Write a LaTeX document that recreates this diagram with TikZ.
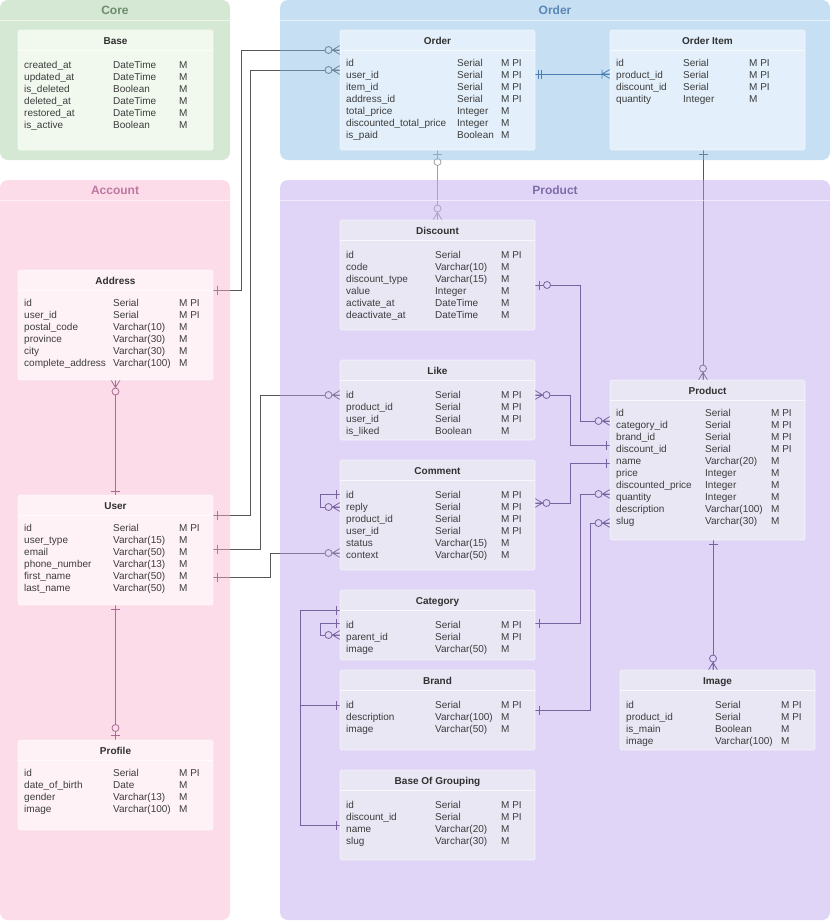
\documentclass[tikz,border=0pt]{standalone}
\usepackage{fontspec}
\setmainfont{Liberation Sans}
\usetikzlibrary{calc}
\pgfdeclarelayer{bg}
\pgfdeclarelayer{lines}
\pgfdeclarelayer{cont}
\pgfsetlayers{bg,lines,cont,main}

\definecolor{linec}{HTML}{575757}
\definecolor{lightl}{HTML}{A0A0A0}
\definecolor{blueline}{HTML}{194B8E}
\definecolor{prodline}{HTML}{40305F}
\definecolor{acctline}{HTML}{613561}
\definecolor{ccore}{HTML}{A2CCA0}
\definecolor{corder}{HTML}{85BAE4}
\definecolor{cacct}{HTML}{F8B3CC}
\definecolor{cprod}{HTML}{BCA4EF}
\definecolor{tcore}{HTML}{F1F9EF}
\definecolor{torder}{HTML}{E3F0FB}
\definecolor{tacct}{HTML}{FFF2F7}
\definecolor{tprod}{HTML}{EAE7F5}
\definecolor{ticore}{HTML}{6E8B6C}
\definecolor{tiorder}{HTML}{5A87B4}
\definecolor{tiacct}{HTML}{BE78A0}
\definecolor{tiprod}{HTML}{806CAA}
\definecolor{txt}{HTML}{3C3C3C}
\definecolor{hdrtxt}{HTML}{303030}

\newcommand{\tblrows}[5]{%
  \foreach \colA/\colB/\colC [count=\rowi] in {#5} {
    \node[cell] (#1-n\rowi) at ($(#1.north west)+(6,#4+12*\rowi-12)$) {\colA};
    \node[cell] (#1-t\rowi) at ($(#1.north west)+(#2,#4+12*\rowi-12)$) {\colB};
    \node[cell] (#1-m\rowi) at ($(#1.north west)+(#3,#4+12*\rowi-12)$) {\colC};
  }%
}
\newcommand{\tblhead}[2]{%
  \node[hdr] (#1-h) at ($(#1.north)+(0,10)$) {#2};
  \draw[sepline] ($(#1.north west)+(0,20)$) -- ($(#1.north east)+(0,20)$);
}

\begin{document}
\begin{tikzpicture}[x=1pt,y=-1pt,
  cont/.style={anchor=north west, inner sep=0pt, outer sep=0pt, rounded corners=8pt, fill opacity=0.45, draw=none},
  ctitle/.style={font=\fontsize{12}{14}\selectfont\bfseries, text height=9.6pt, text depth=0pt, inner sep=0pt},
  bandline/.style={draw=white, draw opacity=0.55, line width=0.8pt},
  tbl/.style={anchor=north west, minimum width=195pt, inner sep=0pt, outer sep=0pt, rounded corners=1.5pt, draw=white, draw opacity=0.6, line width=0.6pt},
  hdr/.style={font=\fontsize{10}{12}\selectfont\bfseries, text=hdrtxt, text height=8.6pt, text depth=0pt, inner sep=0pt},
  cell/.style={anchor=west, font=\fontsize{10}{12}\selectfont, text=txt, text height=8.6pt, text depth=0pt, inner sep=0pt},
  sepline/.style={draw=white, draw opacity=0.7, line width=0.6pt},
  cn/.style={draw=linec, line width=0.8pt},
  mk/.style={color=linec, line width=0.8pt},
  cnp/.style={draw=prodline, line width=0.8pt},
  mkp/.style={color=prodline, line width=0.8pt},
  cna/.style={draw=acctline, line width=0.8pt},
  mka/.style={color=acctline, line width=0.8pt},
  cnl/.style={draw=lightl, line width=0.8pt},
  mkl/.style={color=lightl, line width=0.8pt},
  cnb/.style={draw=blueline, line width=0.8pt},
  mkb/.style={color=blueline, line width=0.8pt},
  pone/.pic={\draw (4,-4.5) -- (4,4.5);},
  pmone/.pic={\draw (3.5,-4.5) -- (3.5,4.5) (6.5,-4.5) -- (6.5,4.5);},
  pzmany/.pic={\draw (0,-4.5) -- (7.5,0) -- (0,4.5) (0,0) -- (7.5,0); \draw[fill=white] (11.5,0) circle[radius=3.5pt];},
  pzone/.pic={\draw (4.5,-4.5) -- (4.5,4.5); \draw[fill=white] (12,0) circle[radius=3.5pt];},
  pomany/.pic={\draw (0,-4.5) -- (8,0) -- (0,4.5) (0,0) -- (8,0) (8,-4.5) -- (8,4.5);}
]
\useasboundingbox (0,0) rectangle (831,922);
\begin{pgfonlayer}{bg}
  \fill[white] (0,0) rectangle (831,922);
\end{pgfonlayer}

% ---------- containers ----------
\begin{pgfonlayer}{cont}
  \node[cont, fill=ccore, minimum width=230pt, minimum height=160pt] (ccore) at (0,0) {};
  \node[cont, fill=cacct, minimum width=230pt, minimum height=740pt] (cacct) at (0,180) {};
  \node[cont, fill=corder, minimum width=550pt, minimum height=160pt] (corder) at (280,0) {};
  \node[cont, fill=cprod, minimum width=550pt, minimum height=740pt] (cprod) at (280,180) {};
\end{pgfonlayer}
\foreach \c in {ccore,cacct,corder,cprod}{
  \draw[bandline] ($(\c.north west)+(0,20)$) -- ($(\c.north east)+(0,20)$);
}
\node[ctitle, text=ticore] (ccore-t) at ($(ccore.north)+(0,10)$) {Core};
\node[ctitle, text=tiacct] (cacct-t) at ($(cacct.north)+(0,10)$) {Account};
\node[ctitle, text=tiorder] (corder-t) at ($(corder.north)+(0,10)$) {Order};
\node[ctitle, text=tiprod] (cprod-t) at ($(cprod.north)+(0,10)$) {Product};

% ---------- tables ----------
\node[tbl, fill=tcore, minimum height=120pt] (base) at (18,30) {};
\tblhead{base}{Base}
\tblrows{base}{95}{161}{34}{created\_at/DateTime/M, updated\_at/DateTime/M, is\_deleted/Boolean/M, deleted\_at/DateTime/M, restored\_at/DateTime/M, is\_active/Boolean/M}

\node[tbl, fill=torder, minimum height=120pt] (order) at (340,30) {};
\tblhead{order}{Order}
\tblrows{order}{117}{161}{32}{id/Serial/M PI, user\_id/Serial/M PI, item\_id/Serial/M PI, address\_id/Serial/M PI, total\_price/Integer/M, discounted\_total\_price/Integer/M, is\_paid/Boolean/M}

\node[tbl, fill=torder, minimum height=120pt] (orderitem) at (610,30) {};
\tblhead{orderitem}{Order Item}
\tblrows{orderitem}{73}{139}{32}{id/Serial/M PI, product\_id/Serial/M PI, discount\_id/Serial/M PI, quantity/Integer/M}

\node[tbl, fill=tacct, minimum height=110pt] (address) at (18,270) {};
\tblhead{address}{Address}
\tblrows{address}{95}{161}{32}{id/Serial/M PI, user\_id/Serial/M PI, postal\_code/Varchar(10)/M, province/Varchar(30)/M, city/Varchar(30)/M, complete\_address/Varchar(100)/M}

\node[tbl, fill=tacct, minimum height=110pt] (user) at (18,495) {};
\tblhead{user}{User}
\tblrows{user}{95}{161}{32}{id/Serial/M PI, user\_type/Varchar(15)/M, email/Varchar(50)/M, phone\_number/Varchar(13)/M, first\_name/Varchar(50)/M, last\_name/Varchar(50)/M}

\node[tbl, fill=tacct, minimum height=90pt] (profile) at (18,740) {};
\tblhead{profile}{Profile}
\tblrows{profile}{95}{161}{32}{id/Serial/M PI, date\_of\_birth/Date/M, gender/Varchar(13)/M, image/Varchar(100)/M}

\node[tbl, fill=tprod, minimum height=110pt] (discount) at (340,220) {};
\tblhead{discount}{Discount}
\tblrows{discount}{95}{161}{34}{id/Serial/M PI, code/Varchar(10)/M, discount\_type/Varchar(15)/M, value/Integer/M, activate\_at/DateTime/M, deactivate\_at/DateTime/M}

\node[tbl, fill=tprod, minimum height=80pt] (like) at (340,360) {};
\tblhead{like}{Like}
\tblrows{like}{95}{161}{34}{id/Serial/M PI, product\_id/Serial/M PI, user\_id/Serial/M PI, is\_liked/Boolean/M}

\node[tbl, fill=tprod, minimum height=110pt] (comment) at (340,460) {};
\tblhead{comment}{Comment}
\tblrows{comment}{95}{161}{34}{id/Serial/M PI, reply/Serial/M PI, product\_id/Serial/M PI, user\_id/Serial/M PI, status/Varchar(15)/M, context/Varchar(50)/M}

\node[tbl, fill=tprod, minimum height=70pt] (category) at (340,590) {};
\tblhead{category}{Category}
\tblrows{category}{95}{161}{34}{id/Serial/M PI, parent\_id/Serial/M PI, image/Varchar(50)/M}

\node[tbl, fill=tprod, minimum height=80pt] (brand) at (340,670) {};
\tblhead{brand}{Brand}
\tblrows{brand}{95}{161}{34}{id/Serial/M PI, description/Varchar(100)/M, image/Varchar(50)/M}

\node[tbl, fill=tprod, minimum height=90pt] (bog) at (340,770) {};
\tblhead{bog}{Base Of Grouping}
\tblrows{bog}{95}{161}{34}{id/Serial/M PI, discount\_id/Serial/M PI, name/Varchar(20)/M, slug/Varchar(30)/M}

\node[tbl, fill=tprod, minimum height=160pt] (product) at (610,380) {};
\tblhead{product}{Product}
\tblrows{product}{95}{161}{32}{id/Serial/M PI, category\_id/Serial/M PI, brand\_id/Serial/M PI, discount\_id/Serial/M PI, name/Varchar(20)/M, price/Integer/M, discounted\_price/Integer/M, quantity/Integer/M, description/Varchar(100)/M, slug/Varchar(30)/M}

\node[tbl, fill=tprod, minimum height=80pt] (image) at (620,670) {};
\tblhead{image}{Image}
\tblrows{image}{95}{161}{34}{id/Serial/M PI, product\_id/Serial/M PI, is\_main/Boolean/M, image/Varchar(100)/M}

% ---------- connectors ----------
\begin{pgfonlayer}{lines}
  % Address -> Order
  \coordinate (c1a) at ($(address.north east)+(0,20)$);
  \coordinate (c1b) at ($(order.north west)+(0,20)$);
  \draw[cn] (c1a) -- ++(28,0) |- (c1b);
  \pic[mk] at (c1a) {pone};
  \pic[mk, rotate=180] at (c1b) {pzmany};
  % User -> Order
  \coordinate (c2a) at ($(user.north east)+(0,20)$);
  \coordinate (c2b) at ($(order.north west)+(0,40)$);
  \draw[cn] (c2a) -- ++(37,0) |- (c2b);
  \pic[mk] at (c2a) {pone};
  \pic[mk, rotate=180] at (c2b) {pzmany};
  % User -> Like
  \coordinate (c3a) at ($(user.north east)+(0,54)$);
  \coordinate (c3b) at ($(like.north west)+(0,35)$);
  \draw[cn] (c3a) -- ++(47,0) |- (c3b);
  \pic[mk] at (c3a) {pone};
  \pic[mk, rotate=180] at (c3b) {pzmany};
  % User -> Comment
  \coordinate (c4a) at ($(user.north east)+(0,82)$);
  \coordinate (c4b) at ($(comment.north west)+(0,93)$);
  \draw[cn] (c4a) -- ++(57,0) |- (c4b);
  \pic[mk] at (c4a) {pone};
  \pic[mk, rotate=180] at (c4b) {pzmany};
  % Order -> Order Item
  \coordinate (c5a) at ($(order.north east)+(0,44)$);
  \coordinate (c5b) at ($(orderitem.north west)+(0,44)$);
  \draw[cnb] (c5a) -- (c5b);
  \pic[mkb] at (c5a) {pmone};
  \pic[mkb, rotate=180] at (c5b) {pomany};
  % Order -> Discount
  \draw[cnl] (order.south) -- (discount.north);
  \pic[mkl, rotate=-90] at (order.south) {pzone};
  \pic[mkl, rotate=90] at (discount.north) {pzmany};
  % Order Item -> Product
  \coordinate (c7a) at ($(orderitem.south)+(-4.5,0)$);
  \coordinate (c7b) at (c7a |- product.north);
  \draw[cn] (c7a) -- (c7b);
  \pic[mk, rotate=-90] at (c7a) {pone};
  \pic[mk, rotate=90] at (c7b) {pzmany};
  % Address -> User
  \draw[cna] (address.south) -- (user.north);
  \pic[mka, rotate=-90] at (address.south) {pzmany};
  \pic[mka, rotate=90] at (user.north) {pone};
  % User -> Profile
  \draw[cna] (user.south) -- (profile.north);
  \pic[mka, rotate=-90] at (user.south) {pone};
  \pic[mka, rotate=90] at (profile.north) {pzone};
  % Discount -> Product
  \coordinate (c10a) at ($(discount.north east)+(0,65)$);
  \coordinate (c10b) at ($(product.north west)+(0,41)$);
  \draw[cnp] (c10a) -- ++(45,0) |- (c10b);
  \pic[mkp] at (c10a) {pzone};
  \pic[mkp, rotate=180] at (c10b) {pzmany};
  % Like -> Product
  \coordinate (c11a) at ($(like.north east)+(0,35)$);
  \coordinate (c11b) at ($(product.north west)+(0,65)$);
  \draw[cnp] (c11a) -- ++(35,0) |- (c11b);
  \pic[mkp] at (c11a) {pzmany};
  \pic[mkp, rotate=180] at (c11b) {pone};
  % Comment -> Product
  \coordinate (c12a) at ($(comment.north east)+(0,43)$);
  \coordinate (c12b) at ($(product.north west)+(0,83)$);
  \draw[cnp] (c12a) -- ++(35,0) |- (c12b);
  \pic[mkp] at (c12a) {pzmany};
  \pic[mkp, rotate=180] at (c12b) {pone};
  % Category -> Product
  \coordinate (c13a) at ($(category.north east)+(0,33)$);
  \coordinate (c13b) at ($(product.north west)+(0,114)$);
  \draw[cnp] (c13a) -- ++(45,0) |- (c13b);
  \pic[mkp] at (c13a) {pone};
  \pic[mkp, rotate=180] at (c13b) {pzmany};
  % Brand -> Product
  \coordinate (c14a) at ($(brand.north east)+(0,40)$);
  \coordinate (c14b) at ($(product.north west)+(0,143)$);
  \draw[cnp] (c14a) -- ++(55,0) |- (c14b);
  \pic[mkp] at (c14a) {pone};
  \pic[mkp, rotate=180] at (c14b) {pzmany};
  % Product -> Image
  \coordinate (c15a) at ($(product.south)+(5.5,0)$);
  \coordinate (c15b) at (c15a |- image.north);
  \draw[cnp] (c15a) -- (c15b);
  \pic[mkp, rotate=-90] at (c15a) {pone};
  \pic[mkp, rotate=90] at (c15b) {pzmany};
  % Comment self
  \coordinate (c16a) at ($(comment.north west)+(0,34)$);
  \coordinate (c16b) at ($(comment.north west)+(0,47)$);
  \draw[cnp] (c16a) -- ++(-20,0) |- (c16b);
  \pic[mkp, rotate=180] at (c16a) {pone};
  \pic[mkp, rotate=180] at (c16b) {pzmany};
  % Category self
  \coordinate (c17a) at ($(category.north west)+(0,33)$);
  \coordinate (c17b) at ($(category.north west)+(0,45)$);
  \draw[cnp] (c17a) -- ++(-20,0) |- (c17b);
  \pic[mkp, rotate=180] at (c17a) {pone};
  \pic[mkp, rotate=180] at (c17b) {pzmany};
  % Base Of Grouping -> Category / Brand
  \coordinate (c18a) at ($(bog.north west)+(0,55)$);
  \coordinate (c18b) at ($(category.north west)+(0,20)$);
  \coordinate (c19b) at ($(brand.north west)+(0,35)$);
  \draw[cnp] (c18a) -- ++(-40,0) |- (c18b);
  \draw[cnp] (c18a) -- ++(-40,0) |- (c19b);
  \pic[mkp, rotate=180] at (c18a) {pone};
  \pic[mkp, rotate=180] at (c18b) {pone};
  \pic[mkp, rotate=180] at (c19b) {pone};
\end{pgfonlayer}
\end{tikzpicture}
\end{document}
